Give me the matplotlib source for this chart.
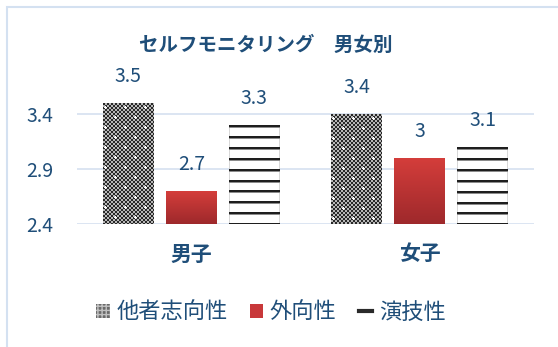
import numpy as np
import matplotlib
matplotlib.use("Agg")
import matplotlib.pyplot as plt
from matplotlib.patches import Patch, Rectangle
from matplotlib.lines import Line2D

plt.rcParams['font.family'] = ['Noto Sans CJK JP', 'DejaVu Sans']

title = "セルフモニタリング　男女別"
groups = ["男子", "女子"]
series = ["他者志向性", "外向性", "演技性"]
other_oriented = [3.5, 3.4]
extraversion = [2.7, 3.0]
acting = [3.3, 3.1]
value_labels = [["3.5", "3.4"], ["2.7", "3"], ["3.3", "3.1"]]
yticks = [2.4, 2.9, 3.4]

text_blue = "#1F4E79"
grid_blue = "#D9E3F1"

W, H = 558, 347
fig = plt.figure(figsize=(W / 100, H / 100), dpi=100)
ax = fig.add_axes([77 / W, 1 - 224 / H, 457 / W, 134 / H])
ax.set_xlim(-0.5, 1.5)
ax.set_ylim(2.4, 3.62)


def checker_texture(nx, ny):
    yy, xx = np.mgrid[0:ny, 0:nx]
    check = ((yy // 2 + xx // 2) % 2).astype(float)
    img = np.where(check[..., None] > 0, [0.72, 0.72, 0.72], [0.16, 0.16, 0.16])
    # small white crosses on a staggered grid
    for r, y0 in enumerate(range(4, ny, 10)):
        off = 2 if r % 2 == 0 else 12
        for x0 in range(off, nx, 20):
            for dy, dx in [(0, 0), (1, 0), (-1, 0), (0, 1), (0, -1)]:
                yi, xi = y0 + dy, x0 + dx
                if 0 <= yi < ny and 0 <= xi < nx:
                    img[yi, xi] = [1, 1, 1]
    return img


def stripe_texture(nx, ny):
    rows = np.arange(ny)
    phase = rows % 10.8
    shade = np.where(phase < 2, 0.12, np.where(phase < 3, 0.55, 1.0))
    img = np.repeat(np.repeat(shade[:, None, None], nx, axis=1), 3, axis=2)
    # soft grey shadow on the sides
    img[:, 0] = np.minimum(img[:, 0], 0.85)
    img[:, -1] = np.minimum(img[:, -1], 0.85)
    return img


def red_texture(nx, ny):
    top = np.array([0.83, 0.24, 0.23])
    bot = np.array([0.62, 0.16, 0.17])
    t = np.linspace(0, 1, ny)[:, None, None]
    img = top * (1 - t) + bot * t
    return np.repeat(img, nx, axis=1)


x = np.arange(len(groups))
width = 0.223
step = 0.276
fills = [checker_texture, red_texture, stripe_texture]

for k, vals in enumerate([other_oriented, extraversion, acting]):
    bars = ax.bar(x + (k - 1) * step, np.array(vals) - 2.4, width, bottom=2.4,
                  color="none", linewidth=0, zorder=3)
    for b, lab in zip(bars, value_labels[k]):
        bb = b.get_window_extent()
        nx, ny = max(int(round(bb.width)), 1), max(int(round(bb.height)), 1)
        img = fills[k](nx, ny)
        x0, y0 = b.get_x(), b.get_y()
        im = ax.imshow(img, extent=(x0, x0 + b.get_width(), y0, y0 + b.get_height()),
                       origin="upper", interpolation="nearest", aspect="auto", zorder=3)
        im.set_clip_path(b)
        ax.annotate(lab, (x0 + b.get_width() / 2, y0 + b.get_height()),
                    xytext=(0, 19), textcoords="offset points",
                    ha="center", va="center", fontsize=14, color=text_blue)

ax.set_xlim(-0.5, 1.5)
ax.set_ylim(2.4, 3.62)
ax.set_yticks(yticks)
ax.set_yticklabels([str(v) for v in yticks])
ax.set_xticks(x)
ax.set_xticklabels(groups, fontsize=15, fontweight="bold", color=text_blue)
ax.tick_params(axis="y", length=0, pad=17, labelsize=14, labelcolor=text_blue)
ax.tick_params(axis="x", length=0, pad=14)
ax.grid(axis="y", color=grid_blue, linewidth=1.3, zorder=0)
ax.set_axisbelow(True)
for s in ax.spines.values():
    s.set_visible(False)

fig.text(266 / W, 1 - 45 / H, title, ha="center", va="center",
         fontsize=14, fontweight="bold", color=text_blue)

handles = [
    Patch(facecolor="#6a6a6a", edgecolor="#c0c0c0", hatch="++++", linewidth=0),
    Patch(facecolor="#C8383A", linewidth=0),
    Line2D([0], [0], color="#2a2a2a", linewidth=3),
]
ax.legend(handles, series, loc="center", bbox_to_anchor=(271 / W, 1 - 312 / H),
          bbox_transform=fig.transFigure, ncol=3, frameon=False, fontsize=16,
          labelcolor=text_blue, handlelength=0.6, handleheight=0.6,
          handletextpad=0.3, columnspacing=1.0)

fig.add_artist(Rectangle((7 / W, -0.1), 1.2, 1.1 - 7 / H, transform=fig.transFigure,
                         fill=False, edgecolor="#D4E1F1", linewidth=1.5))

fig.savefig("out.png", dpi=100)
